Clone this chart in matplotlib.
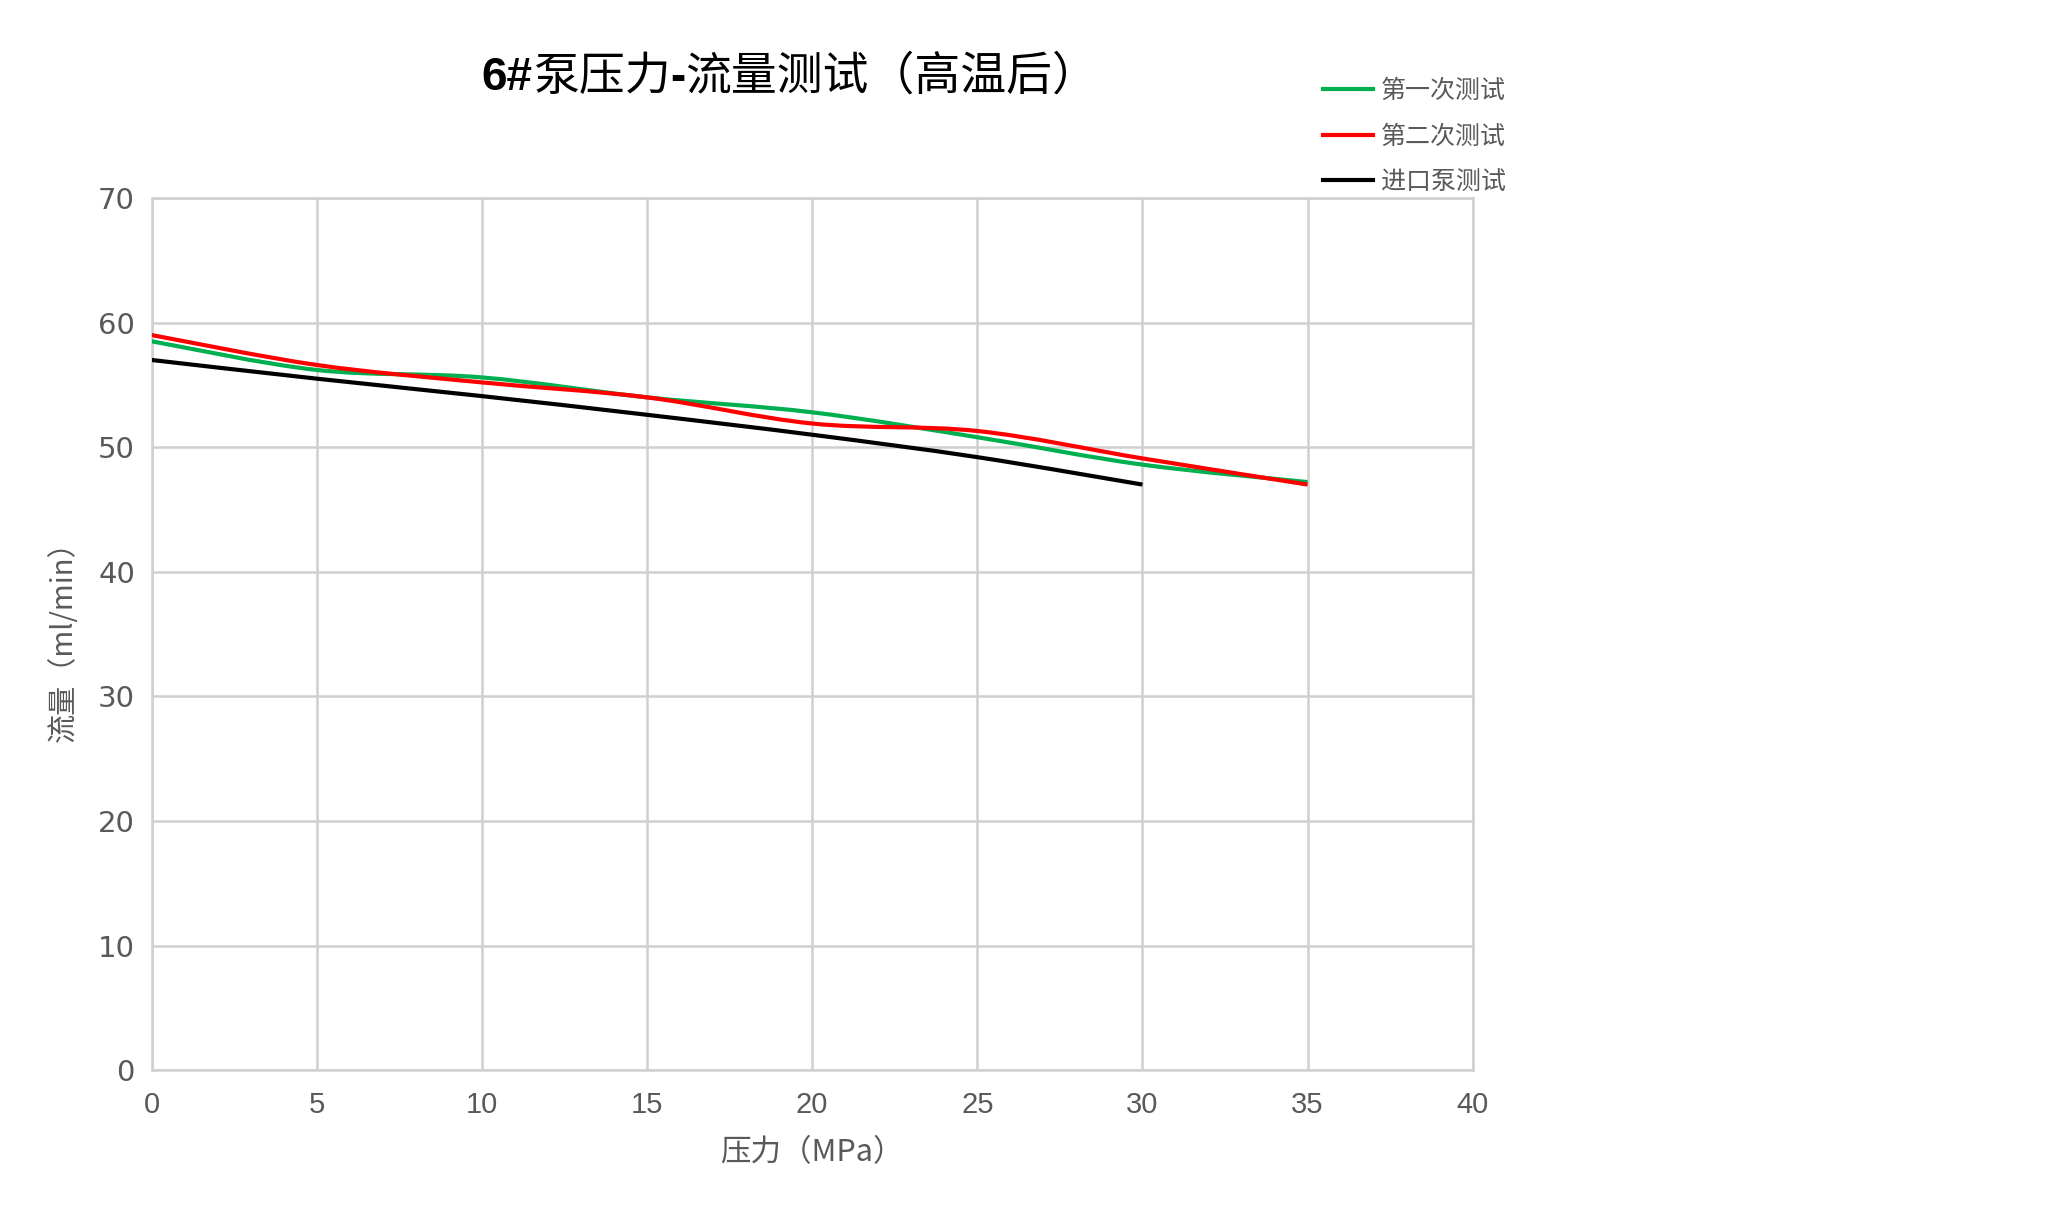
import matplotlib
matplotlib.use("Agg")
import matplotlib.pyplot as plt
from matplotlib.path import Path
from matplotlib.patches import PathPatch
from matplotlib.lines import Line2D

# data
pressure = [0, 5, 10, 15, 20, 25, 30, 35]
flow_test1 = [58.5, 56.2, 55.6, 54.0, 52.8, 50.8, 48.6, 47.2]
flow_test2 = [59.0, 56.6, 55.2, 54.0, 51.9, 51.3, 49.1, 47.0]
pressure_import = [0, 5, 10, 15, 20, 25, 30]
flow_import = [57.0, 55.5, 54.1, 52.6, 51.0, 49.2, 47.0]
series_names = ["第一次测试", "第二次测试", "进口泵测试"]
series_colors = ["#00B050", "#FF0000", "#000000"]
x_ticks = list(range(0, 45, 5))
y_ticks = list(range(0, 80, 10))

CJK = ["Noto Sans CJK SC", "DejaVu Sans"]
LATIN = ["Liberation Sans", "Noto Sans CJK SC"]
GREY = "#595959"
GRID = "#D0D0D0"


def smooth_path(xs, ys):
    """Excel-like smoothed line: Catmull-Rom segments as cubic Bezier."""
    pts = list(zip(xs, ys))
    n = len(pts)
    verts = [pts[0]]
    codes = [Path.MOVETO]
    for i in range(n - 1):
        p0 = pts[max(i - 1, 0)]
        p1 = pts[i]
        p2 = pts[i + 1]
        p3 = pts[min(i + 2, n - 1)]
        c1 = (p1[0] + (p2[0] - p0[0]) / 6, p1[1] + (p2[1] - p0[1]) / 6)
        c2 = (p2[0] - (p3[0] - p1[0]) / 6, p2[1] - (p3[1] - p1[1]) / 6)
        verts += [c1, c2, p2]
        codes += [Path.CURVE4] * 3
    return Path(verts, codes)


def draw_title(fig, pieces, cx, y, size):
    renderer = fig.canvas.get_renderer()
    texts = []
    for s, w in pieces:
        t = fig.text(0, y, s, fontsize=size, fontweight=w, family=LATIN,
                     ha="left", va="baseline", color="black")
        texts.append(t)
    widths = [t.get_window_extent(renderer).width for t in texts]
    x = cx * fig.bbox.width - sum(widths) / 2
    for t, wd in zip(texts, widths):
        t.set_x(x / fig.bbox.width)
        x += wd


fig = plt.figure(figsize=(20.69, 12.30), dpi=100)
ax = fig.add_axes([0.0733, 0.130, 0.6385, 0.709])

data = [(pressure, flow_test1), (pressure, flow_test2),
        (pressure_import, flow_import)]
handles = []
for (xs, ys), name, col in zip(data, series_names, series_colors):
    patch = PathPatch(smooth_path(xs, ys), fill=False, edgecolor=col,
                      linewidth=3.0, capstyle="butt", zorder=3)
    ax.add_patch(patch)
    handles.append(Line2D([], [], color=col, linewidth=3.0, label=name))

ax.set_xlim(0, 40)
ax.set_ylim(0, 70)
ax.set_xticks(x_ticks)
ax.set_yticks(y_ticks)
ax.grid(True, color=GRID, linewidth=1.8)
ax.set_axisbelow(True)
for sp in ax.spines.values():
    sp.set_color(GRID)
    sp.set_linewidth(1.8)
ax.tick_params(axis="x", length=0, pad=15)
ax.tick_params(axis="y", length=0, pad=12)
for lab in ax.get_xticklabels():
    lab.set_family(["Liberation Sans Narrow", "Liberation Sans"])
    lab.set_fontsize(21)
    lab.set_color(GREY)
for lab in ax.get_yticklabels():
    lab.set_family(["DejaVu Sans"])
    lab.set_fontsize(21)
    lab.set_color(GREY)

ax.set_xlabel("压力（MPa）", fontsize=22, color=GREY, family=CJK, labelpad=13)
ax.set_ylabel("流量（ml/min）", fontsize=21, color=GREY, family=CJK, labelpad=14)

draw_title(fig, [("6#", "bold"), ("泵压力", "normal"), ("-", "bold"),
                 ("流量测试（高温后）", "normal")],
           790 / 2069, 1 - 90 / 1230, 33)

leg = fig.legend(handles=handles, loc="upper left",
                 bbox_to_anchor=(1323 / 2069, 1 - 78 / 1230),
                 frameon=False, borderpad=0, borderaxespad=0,
                 handlelength=2.0, handletextpad=0.3, labelspacing=0.78,
                 prop={"family": CJK, "size": 18})
for t in leg.get_texts():
    t.set_color(GREY)

fig.savefig("out.png", dpi=100)
